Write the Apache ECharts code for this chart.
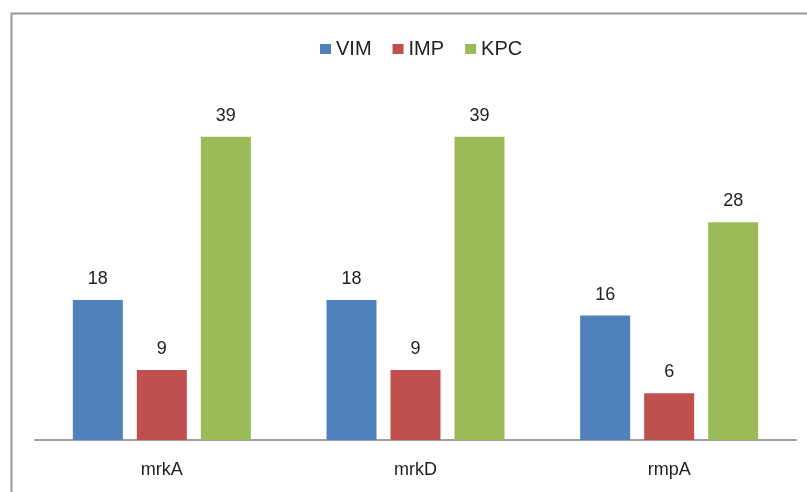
<!DOCTYPE html>
<html><head><meta charset="utf-8">
<script src="https://cdn.jsdelivr.net/npm/echarts@6/dist/echarts.min.js"></script>
<style>html,body{margin:0;padding:0;background:#fff}#c{width:807px;height:492px}</style>
</head><body><div id="c"></div>
<script>
const categories = ["mrkA", "mrkD", "rmpA"];
const seriesNames = ["VIM", "IMP", "KPC"];
const vimValues = [18, 18, 16];
const impValues = [9, 9, 6];
const kpcValues = [39, 39, 28];
const colors = ["#4F81BD", "#C0504D", "#9BBB59"];

const font = "'Liberation Sans', Arial, sans-serif";
const dataSets = [vimValues, impValues, kpcValues];
const chart = echarts.init(document.getElementById('c'));
chart.setOption({
  animation: false,
  textStyle: { fontFamily: font },
  graphic: [{
    type: 'rect', left: 9, top: 11, z: -1,
    shape: { width: 820, height: 500 },
    style: { fill: 'none', stroke: '#9a9a9a', lineWidth: 2 }
  }],
  legend: {
    top: 34, left: 315, itemWidth: 11, itemHeight: 10, itemGap: 21,
    icon: 'rect',
    textStyle: { fontSize: 20, color: '#222', fontFamily: font },
    data: seriesNames
  },
  grid: { left: 35, right: 11, top: 90, bottom: 52 },
  xAxis: {
    type: 'category', data: categories,
    axisLine: { lineStyle: { color: '#a0a0a0', width: 2 } },
    axisTick: { show: false },
    axisLabel: { fontSize: 18, color: '#222', margin: 21, fontFamily: font }
  },
  yAxis: { type: 'value', min: 0, max: 45, show: false, splitLine: { show: false } },
  series: seriesNames.map((n, i) => ({
    name: n, type: 'bar', data: dataSets[i], barWidth: 50, barGap: '28%',
    itemStyle: { color: colors[i] },
    label: { show: true, position: 'top', distance: 12, fontSize: 18, color: '#222', fontFamily: font }
  }))
});
</script></body></html>
